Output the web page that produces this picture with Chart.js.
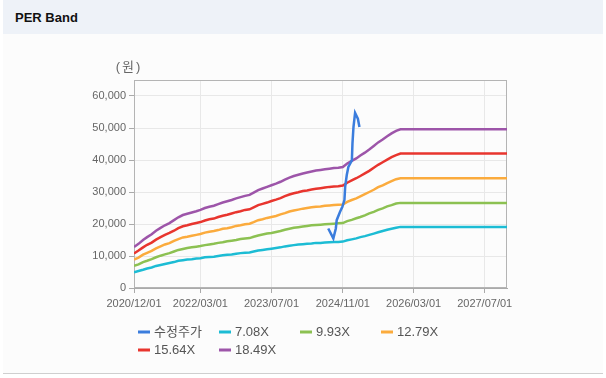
<!DOCTYPE html>
<html><head><meta charset="utf-8">
<script src="https://cdn.jsdelivr.net/npm/chart.js@4.4.1/dist/chart.umd.min.js"></script>
<style>
html,body{margin:0;padding:0;background:#fff;width:606px;height:378px;overflow:hidden;font-family:'Liberation Sans',Arial,sans-serif;}
#panel{position:absolute;left:3px;top:0;width:600px;height:373px;background:#fcfcfc;border-bottom:1px solid #cfcfcf;}
#head{position:absolute;left:0;top:0;width:600px;height:34px;background:#eef2f8;}
#title{position:absolute;left:12px;top:10px;font-weight:bold;font-size:13px;line-height:15px;color:#111;}
canvas{position:absolute;left:0;top:0;}
</style></head>
<body>
<div id="panel"><div id="head"><div id="title">PER Band</div></div></div>
<canvas id="c" width="606" height="378"></canvas>
<script>
const xTickLabels = ['2020/12/01','2022/03/01','2023/07/01','2024/11/01','2026/03/01','2027/07/01'];
const xStart = '2020/12/01', xEnd = '2027/12/01';
const yTicks = [0,10000,20000,30000,40000,50000,60000];

const seriesNames = ['수정주가','7.08X','9.93X','12.79X','15.64X','18.49X'];

const priceDates = ['2024/07/24','2024/08/28','2024/09/14','2024/09/20','2024/10/13','2024/10/29','2024/11/12','2024/11/17','2024/11/28','2024/12/09','2025/01/02','2025/01/06','2025/01/13','2025/01/24','2025/02/12','2025/02/23'];
const priceValues = [18600,15500,18600,21200,23800,25400,27500,31600,35300,37800,39900,45100,50300,54700,52900,50300];

const bandDates = [
'2020/12/01',
'2021/01/01','2021/02/01','2021/03/01','2021/04/01','2021/05/01','2021/06/01','2021/07/01','2021/08/01','2021/09/01','2021/10/01','2021/11/01','2021/12/01',
'2022/01/01','2022/02/01','2022/03/01','2022/04/01','2022/05/01','2022/06/01','2022/07/01','2022/08/01','2022/09/01','2022/10/01','2022/11/01','2022/12/01',
'2023/01/01','2023/02/01','2023/03/01','2023/04/01','2023/05/01','2023/06/01','2023/07/01','2023/08/01','2023/09/01','2023/10/01','2023/11/01','2023/12/01',
'2024/01/01','2024/02/01','2024/03/01','2024/04/01','2024/05/01','2024/06/01','2024/07/01','2024/08/01','2024/09/01','2024/10/01','2024/11/01','2024/12/01',
'2025/01/01','2025/02/01','2025/03/01','2025/04/01','2025/05/01','2025/06/01','2025/07/01','2025/08/01','2025/09/01','2025/10/01','2025/11/01','2025/12/01',
'2027/12/01'];

const band708 = [4900,5300,5700,6100,6400,6900,7200,7500,7800,8100,
8500,8700,8900,9000,9200,9300,9600,9700,9800,10000,
10200,10400,10500,10700,10900,11000,11100,11400,11700,11900,
12100,12300,12500,12700,13000,13200,13400,13600,13700,13800,
13900,14100,14100,14200,14300,14400,14400,14500,14900,15200,
15500,15900,16200,16600,17000,17400,17800,18200,18500,18800,
19100,19100];
const band993 = [6900,7400,8100,8500,9000,9600,10100,10500,10900,11400,
11900,12200,12500,12700,12900,13100,13400,13600,13800,14100,
14300,14600,14800,15000,15300,15500,15600,16000,16400,16700,
17000,17200,17500,17800,18200,18500,18800,19000,19200,19400,
19600,19700,19800,19900,20000,20100,20200,20300,20900,21300,
21800,22200,22700,23300,23800,24400,24900,25500,25900,26400,
26600,26600];
const band1279 = [8900,9500,10400,11000,11600,12400,13000,13600,14000,14700,
15300,15800,16000,16300,16600,16900,17300,17600,17800,18100,
18500,18700,19000,19400,19600,19900,20100,20600,21200,21500,
21900,22200,22500,23000,23400,23900,24200,24500,24800,25000,
25200,25400,25500,25700,25800,25900,26000,26100,26900,27500,
28000,28600,29300,30000,30700,31500,32100,32800,33400,34000,
34300,34300];
const band1564 = [10800,11700,12700,13500,14200,15100,15900,16600,17200,17900,
18700,19300,19600,20000,20300,20600,21100,21500,21700,22200,
22600,22900,23300,23700,24000,24400,24600,25200,25900,26300,
26700,27200,27600,28100,28700,29200,29600,29900,30300,30500,
30800,31000,31200,31400,31600,31700,31800,32000,32900,33600,
34300,35000,35800,36600,37600,38500,39300,40100,40900,41500,
42000,42000];
const band1849 = [12800,13800,15000,15900,16800,17900,18800,19600,20300,21200,
22100,22800,23200,23600,24000,24400,25000,25400,25700,26200,
26700,27100,27500,28000,28400,28800,29100,29800,30600,31100,
31600,32100,32600,33200,33900,34500,35000,35400,35800,36100,
36400,36700,36900,37100,37300,37500,37600,37800,38900,39700,
40500,41400,42300,43300,44400,45500,46400,47400,48300,49100,
49600,49600];

const colors = ['#3b7ddd','#1cbcd4','#8cc152','#fbab3d','#e8352e','#9d55a9'];

const toDay = s => { const [y,m,d] = s.split('/').map(Number); return Date.UTC(y, m-1, d) / 86400000; };
const mk = (dates, vals) => dates.map((d,i) => ({x: toDay(d), y: vals[i]}));
const labelByDay = {};
xTickLabels.forEach(l => { labelByDay[toDay(l)] = l; });

const FONT = '"Liberation Sans", Arial, "Noto Sans CJK KR", sans-serif';

const seriesData = [
  mk(priceDates, priceValues),
  mk(bandDates, band708),
  mk(bandDates, band993),
  mk(bandDates, band1279),
  mk(bandDates, band1564),
  mk(bandDates, band1849)
];

const frame = {
  id: 'frame',
  beforeDatasetsDraw(chart) {
    const a = chart.chartArea, ctx = chart.ctx;
    ctx.save();
    ctx.strokeStyle = '#b4b4b4';
    ctx.lineWidth = 1;
    ctx.strokeRect(Math.round(a.left) + 0.5, Math.round(a.top) + 0.5, Math.round(a.right - a.left) - 1, Math.round(a.bottom - a.top) - 1);
    ctx.restore();
  }
};
const extras = {
  id: 'extras',
  afterDraw(chart) {
    const ctx = chart.ctx;
    ctx.save();
    ctx.fillStyle = '#666';
    ctx.font = '13px ' + FONT;
    ctx.textAlign = 'center';
    ctx.textBaseline = 'middle';
    ctx.letterSpacing = '2px';
    ctx.fillText('(원)', 129, 67);
    ctx.letterSpacing = '0px';
    ctx.textAlign = 'left';
    chart.data.datasets.forEach((ds, k) => {
      const col = k % 4, row = Math.floor(k / 4);
      const x = 138 + col * 81, y = 332 + row * 18;
      ctx.fillStyle = ds.borderColor;
      ctx.fillRect(x, y - 1.5, 12, 3);
      ctx.fillStyle = '#555';
      ctx.fillText(ds.label, x + 16, y + 0.5);
    });
    ctx.restore();
  }
};

new Chart(document.getElementById('c'), {
  type: 'line',
  data: {
    datasets: seriesNames.map((n, k) => ({
      label: n, data: seriesData[k], borderColor: colors[k], backgroundColor: colors[k],
      borderWidth: 2.5, pointRadius: 0, tension: 0, fill: false
    }))
  },
  options: {
    responsive: false, animation: false,
    layout: {padding: {left: 0, top: 80, right: 99, bottom: 70}},
    plugins: {legend: {display: false}, tooltip: {enabled: false}},
    scales: {
      x: {
        type: 'linear', min: toDay(xStart), max: toDay(xEnd),
        afterBuildTicks: s => { s.ticks = xTickLabels.map(l => ({value: toDay(l)})); },
        afterFit: s => { s.height = 20; },
        ticks: {callback: v => labelByDay[v] || '', font: {size: 11, family: FONT}, color: '#666', padding: 4, maxRotation: 0, autoSkip: false},
        grid: {color: '#e8e8e8', tickColor: '#aaa', tickLength: 5},
        border: {color: '#aaa'}
      },
      y: {
        min: 0, max: 65000,
        afterBuildTicks: s => { s.ticks = yTicks.map(v => ({value: v})); },
        afterFit: s => { s.width = 134; },
        ticks: {callback: v => v.toLocaleString('en-US'), font: {size: 11, family: FONT}, color: '#666', padding: 3},
        grid: {color: '#e8e8e8', tickColor: '#aaa', tickLength: 5},
        border: {color: '#aaa'}
      }
    }
  },
  plugins: [frame, extras]
});
</script>
</body></html>
